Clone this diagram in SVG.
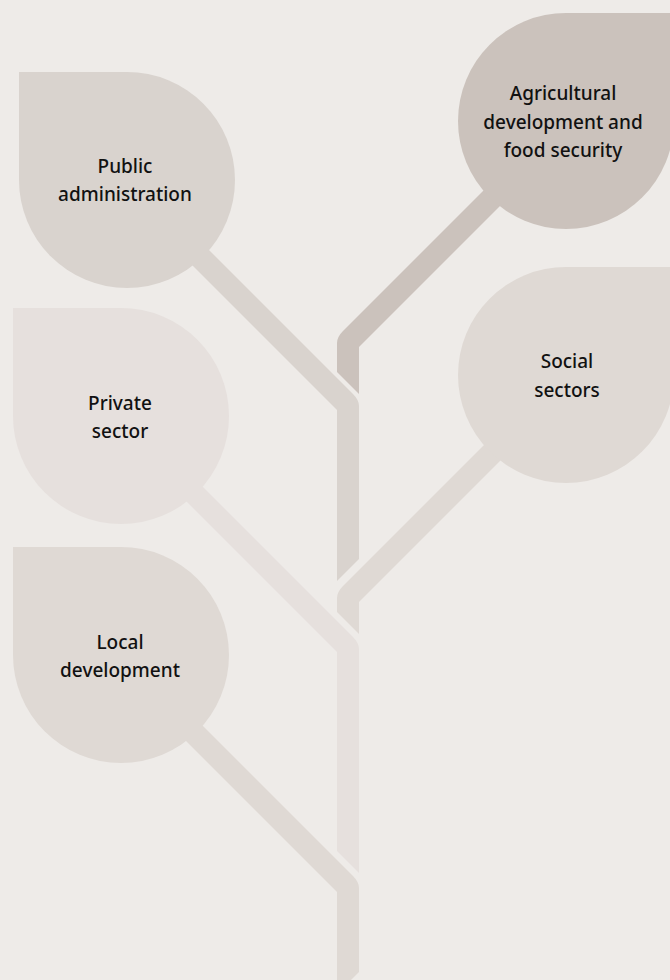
<svg xmlns="http://www.w3.org/2000/svg" width="670" height="980" viewBox="0 0 670 980">
<style>
.lbl{font-family:"Noto Sans","Open Sans","Liberation Sans",sans-serif;font-size:19px;font-weight:500;fill:#111;text-anchor:middle}
.c1{fill:#d9d3ce}.c2{fill:#cbc2bc}.c3{fill:#dfd9d4}.c4{fill:#e6e0dd}.c5{fill:#dfd9d4}
</style>
<rect width="670" height="980" fill="#eeebe8"/>
<g id="connectors">
<path class="c2" d="M520,154 L343,331 Q337,337 337,343 L337,372 L359,394 L359,347 L540,166 Z"/>
<path class="c1" d="M150,191 L353,394 Q359,400 359,406 L359,559 L337,581 L337,410 L130,203 Z"/>
<path class="c3" d="M540,389 L343,586 Q337,592 337,598 L337,612 L359,634 L359,602 L560,401 Z"/>
<path class="c4" d="M140,424 L353,637 Q359,643 359,649 L359,873 L337,851 L337,652 L120,435 Z"/>
<path class="c5" d="M140,663 L353,876 Q359,882 359,888 L359,972 L337,994 L337,892 L120,675 Z"/>
</g>
<g id="public-administration">
<path class="c1" d="M19,72 H127 A108,108 0 0 1 235,180 A108,108 0 0 1 127,288 A108,108 0 0 1 19,180 Z"/>
<text class="lbl" x="125" y="173">Public</text>
<text class="lbl" x="125" y="201">administration</text>
</g>
<g id="agricultural-development">
<path class="c2" d="M674,13 V121 A108,108 0 0 1 566,229 A108,108 0 0 1 458,121 A108,108 0 0 1 566,13 Z"/>
<text class="lbl" x="563" y="100">Agricultural</text>
<text class="lbl" x="563" y="128.5">development and</text>
<text class="lbl" x="563" y="157">food security</text>
</g>
<g id="social-sectors">
<path class="c3" d="M674,267 V375 A108,108 0 0 1 566,483 A108,108 0 0 1 458,375 A108,108 0 0 1 566,267 Z"/>
<text class="lbl" x="567" y="368">Social</text>
<text class="lbl" x="567" y="397">sectors</text>
</g>
<g id="private-sector">
<path class="c4" d="M13,308 H121 A108,108 0 0 1 229,416 A108,108 0 0 1 121,524 A108,108 0 0 1 13,416 Z"/>
<text class="lbl" x="120" y="410">Private</text>
<text class="lbl" x="120" y="438">sector</text>
</g>
<g id="local-development">
<path class="c5" d="M13,547 H121 A108,108 0 0 1 229,655 A108,108 0 0 1 121,763 A108,108 0 0 1 13,655 Z"/>
<text class="lbl" x="120" y="649">Local</text>
<text class="lbl" x="120" y="677">development</text>
</g>
</svg>
